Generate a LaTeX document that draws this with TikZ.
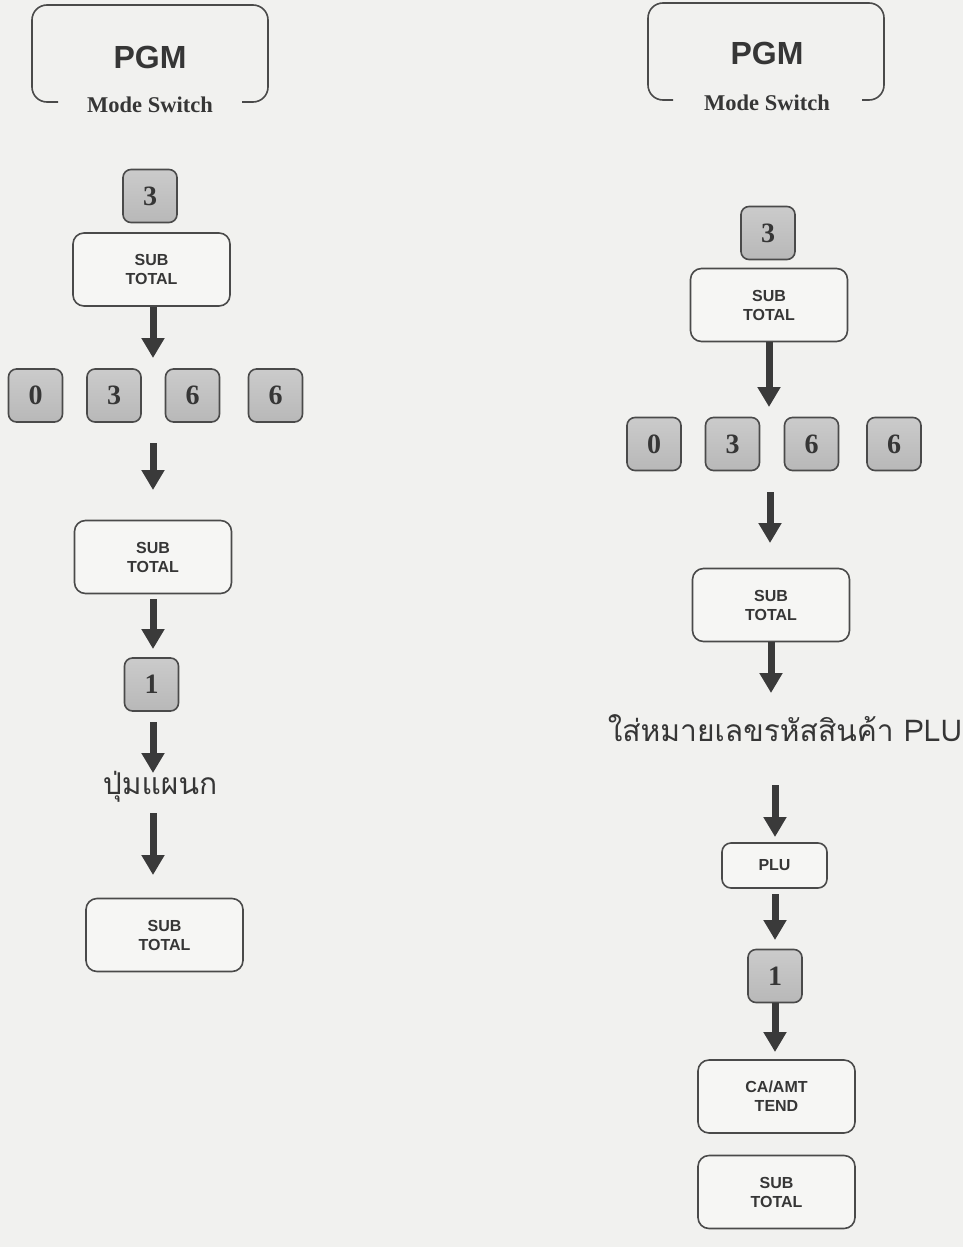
\documentclass[tikz,border=0pt]{standalone}
\usepackage{fontspec}
\setmainfont{Liberation Serif}
\setsansfont{Liberation Sans}
\newfontfamily\thaifont[Script=Thai]{Loma}
\usetikzlibrary{arrows.meta}
\definecolor{bgc}{HTML}{F1F1EF}
\definecolor{txt}{HTML}{363636}
\definecolor{linec}{HTML}{4A4A4A}
\definecolor{arrc}{HTML}{3A3A3A}
\definecolor{keytop}{HTML}{CBCBCB}
\definecolor{keybot}{HTML}{B8B8B8}
\definecolor{boxfill}{HTML}{F6F6F4}
\begin{document}
\begin{tikzpicture}[x=1pt,y=-1pt,
  frame/.style={draw=linec, line width=1.6pt, rounded corners=15pt},
  pgmtxt/.style={font=\sffamily\bfseries\fontsize{32}{35}\selectfont, text=txt, inner sep=0pt},
  modetxt/.style={font=\bfseries\fontsize{22.5}{25}\selectfont, text=txt, inner sep=0pt},
  keybox/.style={draw=linec, line width=1.6pt, rounded corners=8pt, top color=keytop, bottom color=keybot,
    minimum width=54pt, minimum height=53pt, inner sep=0pt, font=\bfseries\fontsize{28}{30}\selectfont, text=txt},
  stbox/.style={draw=linec, line width=1.6pt, rounded corners=11pt, fill=boxfill,
    minimum width=157pt, minimum height=73pt, inner sep=0pt, align=center,
    font=\sffamily\bfseries\fontsize{16}{19}\selectfont, text=txt},
  plubox/.style={stbox, minimum width=105pt, minimum height=45pt, rounded corners=9pt},
  thaitxt/.style={font=\thaifont\fontsize{30}{34}\selectfont, text=txt, inner sep=0pt},
  arr/.style={draw=arrc, line width=7pt, -{Triangle[width=22pt,length=20pt]}}
]
\fill[bgc] (0,0) rectangle (963,1247);
\useasboundingbox (0,0) rectangle (963,1247);

% ---------- left column ----------
\draw[frame] (58,102) -- (32,102) -- (32,5) -- (268,5) -- (268,102) -- (242,102);
\node[pgmtxt] (pgmL) at (150,57) {PGM};
\node[modetxt] (modeL) at (150,105) {Mode Switch};

\node[keybox] (kL3) at (150,196) {3};
\node[stbox] (stL1) at (151.5,269.5) {SUB\\TOTAL};
\node[keybox] (kLa) at (35.5,395.5) {0};
\node[keybox] (kLb) at (114,395.5) {3};
\node[keybox] (kLc) at (192.5,395.5) {6};
\node[keybox] (kLd) at (275.5,395.5) {6};
\node[stbox] (stL2) at (153,557) {SUB\\TOTAL};
\node[keybox] (kL1) at (151.5,684.5) {1};
\node[thaitxt] (dept) at (160,787) {ปุ่มแผนก};
\node[stbox] (stL3) at (164.5,935) {SUB\\TOTAL};

\coordinate (a1e) at (153,358);
\coordinate (a2s) at (153,443);
\coordinate (a2e) at (153,490);
\coordinate (a3s) at (153,599);
\coordinate (a3e) at (153,649);
\coordinate (a4s) at (153,722);
\coordinate (a4e) at (153,773);
\coordinate (a5s) at (153,813);
\coordinate (a5e) at (153,875);
\draw[arr] (stL1.south -| a1e) -- (a1e);
\draw[arr] (a2s) -- (a2e);
\draw[arr] (a3s) -- (a3e);
\draw[arr] (a4s) -- (a4e);
\draw[arr] (a5s) -- (a5e);

% ---------- right column ----------
\draw[frame] (673,100) -- (648,100) -- (648,3) -- (884,3) -- (884,100) -- (862,100);
\node[pgmtxt] (pgmR) at (767,53) {PGM};
\node[modetxt] (modeR) at (767,103) {Mode Switch};

\node[keybox] (kR3) at (768,233) {3};
\node[stbox] (stR1) at (769,305) {SUB\\TOTAL};
\node[keybox] (kRa) at (654,444) {0};
\node[keybox] (kRb) at (732.5,444) {3};
\node[keybox] (kRc) at (811.5,444) {6};
\node[keybox] (kRd) at (894,444) {6};
\node[stbox] (stR2) at (771,605) {SUB\\TOTAL};
\node[thaitxt] (plucode) at (785,728) {ใส่หมายเลขรหัสสินค้า PLU};
\node[plubox] (plu) at (774.5,865.5) {PLU};
\node[keybox] (kR1) at (775,976) {1};
\node[stbox] (ca) at (776.5,1096.5) {CA/AMT\\TEND};
\node[stbox] (stR3) at (776.5,1192) {SUB\\TOTAL};

\coordinate (b1e) at (769,407);
\coordinate (b2s) at (770,492);
\coordinate (b2e) at (770,543);
\coordinate (b3e) at (771,693);
\coordinate (b4s) at (775,785);
\coordinate (b4e) at (775,837);
\coordinate (b5s) at (775,894);
\coordinate (b5e) at (775,940);
\coordinate (b6e) at (775,1052);
\draw[arr] (stR1.south) -- (b1e);
\draw[arr] (b2s) -- (b2e);
\draw[arr] (stR2.south -| b3e) -- (b3e);
\draw[arr] (b4s) -- (b4e);
\draw[arr] (b5s) -- (b5e);
\draw[arr] (kR1.south) -- (b6e);
\end{tikzpicture}
\end{document}
